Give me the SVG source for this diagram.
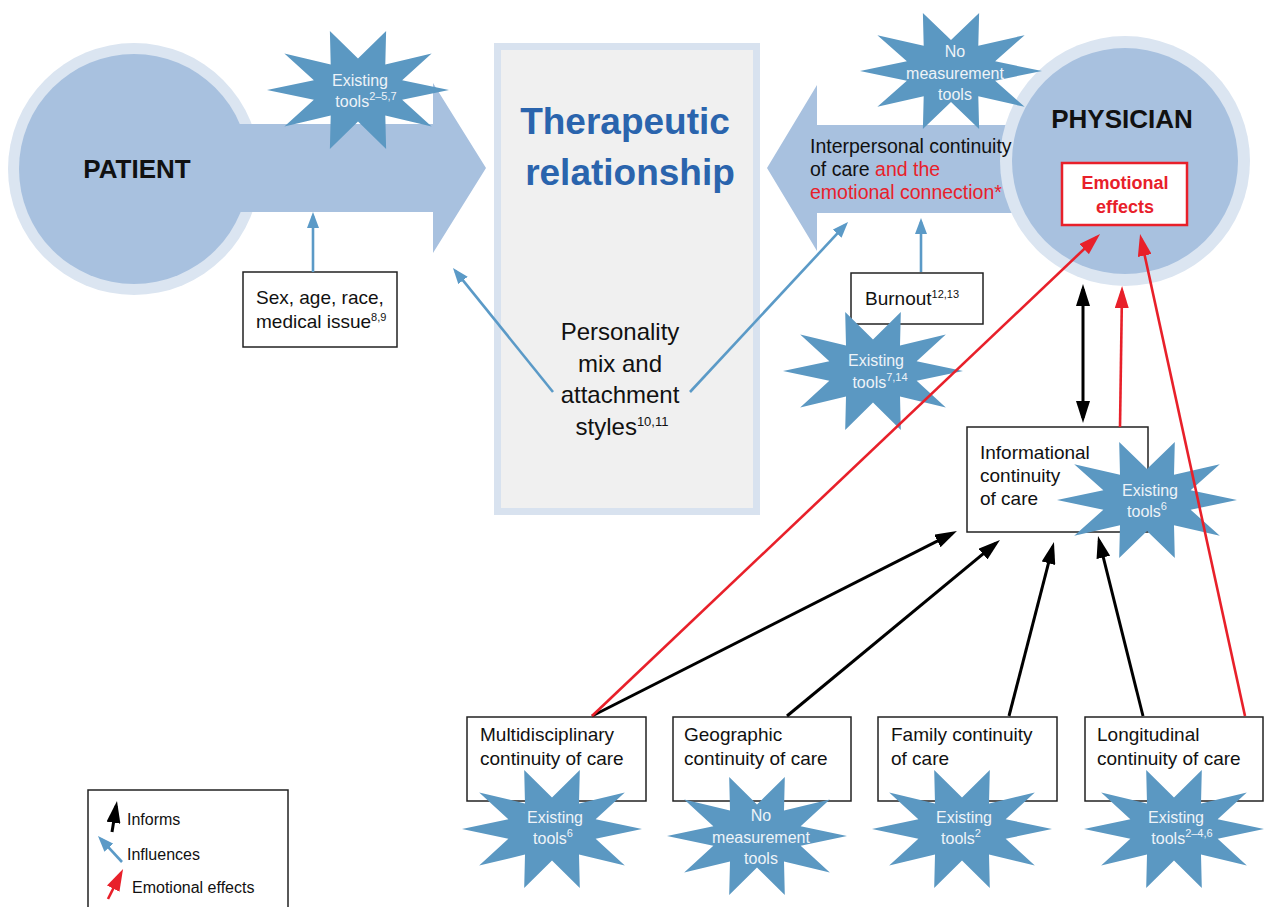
<svg xmlns="http://www.w3.org/2000/svg" width="1265" height="907" viewBox="0 0 1265 907">
<style>
text{font-family:"Liberation Sans",Arial,sans-serif;fill:#111}
.box{fill:#fff;stroke:#222;stroke-width:1.5}
.t18{font-size:19px}
.st{font-size:16px;fill:#eef3f8;text-anchor:middle}
.sup{font-size:11px}
.blk{stroke:#000;stroke-width:3;fill:none}
.red{stroke:#e8202a;stroke-width:2.6;fill:none}
.blu{stroke:#5b9ac7;stroke-width:2.6;fill:none}
.star{fill:#5b98c2}
.ring{fill:#dbe5f1}
.core{fill:#a8c1df}
</style>
<defs>
<path id="star" d="M100,0 L48.5,-15.8 L80.9,-58.8 L30,-41.3 L30.9,-95.1 L0,-51 L-30.9,-95.1 L-30,-41.3 L-80.9,-58.8 L-48.5,-15.8 L-100,0 L-48.5,15.8 L-80.9,58.8 L-30,41.3 L-30.9,95.1 L0,51 L30.9,95.1 L30,41.3 L80.9,58.8 L48.5,15.8 Z"/>
<marker id="hBlack" markerUnits="userSpaceOnUse" markerWidth="22" markerHeight="14" viewBox="0 0 22 14" refX="17" refY="7" orient="auto-start-reverse"><path d="M0,0 L22,7 L0,14 Z" fill="#000"/></marker>
<marker id="hRed" markerUnits="userSpaceOnUse" markerWidth="22" markerHeight="14" viewBox="0 0 22 14" refX="17" refY="7" orient="auto"><path d="M0,0 L22,7 L0,14 Z" fill="#e8202a"/></marker>
<marker id="hBlue" markerUnits="userSpaceOnUse" markerWidth="16" markerHeight="12" viewBox="0 0 16 12" refX="12" refY="6" orient="auto"><path d="M0,0 L16,6 L0,12 Z" fill="#5b9ac7"/></marker>
</defs>

<g id="patient">
<circle class="ring" cx="134" cy="169" r="126"/>
<circle class="core" cx="134" cy="169" r="115"/>
<polygon class="core" points="200,124 433,124 433,83 486,168 433,253 433,212 200,212"/>
<text x="137" y="178" font-size="26" font-weight="bold" text-anchor="middle" fill="#000">PATIENT</text>
</g>

<g id="physician">
<polygon class="core" points="1030,125 817,125 817,85 767,168 817,251 817,213 1030,213"/>
<circle class="ring" cx="1125" cy="161" r="125"/>
<circle class="core" cx="1125" cy="161" r="113"/>
<text x="1122" y="128" font-size="26" font-weight="bold" text-anchor="middle" fill="#000">PHYSICIAN</text>
<text x="810" y="153" font-size="19.5">Interpersonal continuity</text>
<text x="810" y="176" font-size="19.5">of care <tspan style="fill:#e8202a">and the</tspan></text>
<text x="810" y="199" font-size="19.5" style="fill:#e8202a">emotional connection*</text>
</g>

<g id="emotional-effects">
<rect x="1062" y="163" width="125" height="62" fill="#fff" stroke="#e8202a" stroke-width="2.5"/>
<text x="1125" y="189" font-size="18" font-weight="bold" text-anchor="middle" style="fill:#e8202a">Emotional</text>
<text x="1125" y="213" font-size="18" font-weight="bold" text-anchor="middle" style="fill:#e8202a">effects</text>
</g>

<g id="therapeutic-relationship">
<rect x="497.5" y="46.5" width="259" height="465" fill="#f0f0f0" stroke="#d8e2ef" stroke-width="7"/>
<text x="625" y="134" font-size="37" font-weight="bold" text-anchor="middle" style="fill:#2a64ad">Therapeutic</text>
<text x="630" y="185" font-size="37" font-weight="bold" text-anchor="middle" style="fill:#2a64ad">relationship</text>
<text x="620" y="340" font-size="24" text-anchor="middle">Personality</text>
<text x="620" y="372" font-size="24" text-anchor="middle">mix and</text>
<text x="620" y="403" font-size="24" text-anchor="middle">attachment</text>
<text x="622" y="435" font-size="24" text-anchor="middle">styles<tspan font-size="13" dy="-9">10,11</tspan></text>
</g>

<g id="star-patient">
<use href="#star" class="star" transform="translate(358,90) scale(0.91,0.62)"/>
<text class="st" x="360" y="86">Existing</text>
<text class="st" x="366" y="107">tools<tspan class="sup" dy="-7">2–5,7</tspan></text>
</g>

<g id="star-interpersonal">
<use href="#star" class="star" transform="translate(951,71) scale(0.91,0.61)"/>
<text class="st" x="955" y="57">No</text>
<text class="st" x="955" y="79">measurement</text>
<text class="st" x="955" y="100">tools</text>
</g>

<g id="sex-age">
<rect class="box" x="243" y="272" width="154" height="75"/>
<text class="t18" x="256" y="304">Sex, age, race,</text>
<text class="t18" x="256" y="328">medical issue<tspan class="sup" dy="-7">8,9</tspan></text>
</g>

<g id="burnout">
<rect class="box" x="851" y="273" width="132" height="51"/>
<text class="t18" x="865" y="305">Burnout<tspan class="sup" dy="-7">12,13</tspan></text>
</g>

<g id="star-burnout">
<use href="#star" class="star" transform="translate(873,371) scale(0.90,0.62)"/>
<text class="st" x="876" y="366">Existing</text>
<text class="st" x="880" y="388">tools<tspan class="sup" dy="-7">7,14</tspan></text>
</g>

<g id="informational">
<rect class="box" x="967" y="427" width="181" height="105"/>
<text class="t18" x="980" y="459">Informational</text>
<text class="t18" x="980" y="482">continuity</text>
<text class="t18" x="980" y="505">of care</text>
</g>

<g id="star-informational">
<use href="#star" class="star" transform="translate(1147,500) scale(0.90,0.61)"/>
<text class="st" x="1150" y="496">Existing</text>
<text class="st" x="1147" y="517">tools<tspan class="sup" dy="-7">6</tspan></text>
</g>

<g id="multidisciplinary">
<rect class="box" x="467" y="717" width="179" height="84"/>
<text class="t18" x="480" y="741">Multidisciplinary</text>
<text class="t18" x="480" y="765">continuity of care</text>
</g>
<g id="geographic">
<rect class="box" x="673" y="717" width="178" height="84"/>
<text class="t18" x="684" y="741">Geographic</text>
<text class="t18" x="684" y="765">continuity of care</text>
</g>
<g id="family">
<rect class="box" x="878" y="717" width="179" height="84"/>
<text class="t18" x="891" y="741">Family continuity</text>
<text class="t18" x="891" y="765">of care</text>
</g>
<g id="longitudinal">
<rect class="box" x="1085" y="717" width="178" height="84"/>
<text class="t18" x="1097" y="741">Longitudinal</text>
<text class="t18" x="1097" y="765">continuity of care</text>
</g>

<g id="star-multidisciplinary">
<use href="#star" class="star" transform="translate(552,829) scale(0.90,0.62)"/>
<text class="st" x="555" y="823">Existing</text>
<text class="st" x="553" y="844">tools<tspan class="sup" dy="-7">6</tspan></text>
</g>
<g id="star-geographic">
<use href="#star" class="star" transform="translate(757,836) scale(0.90,0.62)"/>
<text class="st" x="761" y="821">No</text>
<text class="st" x="761" y="843">measurement</text>
<text class="st" x="761" y="864">tools</text>
</g>
<g id="star-family">
<use href="#star" class="star" transform="translate(962,829) scale(0.90,0.62)"/>
<text class="st" x="964" y="823">Existing</text>
<text class="st" x="961" y="844">tools<tspan class="sup" dy="-7">2</tspan></text>
</g>
<g id="star-longitudinal">
<use href="#star" class="star" transform="translate(1174,829) scale(0.90,0.62)"/>
<text class="st" x="1176" y="823">Existing</text>
<text class="st" x="1182" y="844">tools<tspan class="sup" dy="-7">2–4,6</tspan></text>
</g>

<g id="connectors">
<line class="blk" x1="592" y1="716" x2="952.5" y2="533.3" marker-end="url(#hBlack)"/>
<line class="blk" x1="787" y1="716" x2="996.1" y2="543.2" marker-end="url(#hBlack)"/>
<line class="blk" x1="1009" y1="716" x2="1052.7" y2="546.8" marker-end="url(#hBlack)"/>
<line class="blk" x1="1143" y1="716" x2="1099.2" y2="540.9" marker-end="url(#hBlack)"/>
<line class="blk" x1="1083" y1="418" x2="1083" y2="289" marker-start="url(#hBlack)" marker-end="url(#hBlack)"/>
<line class="red" x1="592" y1="716" x2="1096.4" y2="237.4" marker-end="url(#hRed)"/>
<line class="red" x1="1120" y1="427" x2="1122" y2="291" marker-end="url(#hRed)"/>
<line class="red" x1="1245" y1="716" x2="1141.1" y2="238.9" marker-end="url(#hRed)"/>
<line class="blu" x1="313" y1="272" x2="313" y2="216" marker-end="url(#hBlue)"/>
<line class="blu" x1="553" y1="392" x2="455.5" y2="271.1" marker-end="url(#hBlue)"/>
<line class="blu" x1="690" y1="392" x2="845.3" y2="224.9" marker-end="url(#hBlue)"/>
<line class="blu" x1="921" y1="272" x2="921" y2="222" marker-end="url(#hBlue)"/>
</g>

<g id="legend">
<rect class="box" x="88" y="790" width="200" height="130"/>
<line class="blk" x1="112" y1="832" x2="116.2" y2="805.9" stroke-width="2.5" marker-end="url(#hBlack)"/>
<line class="blu" x1="122" y1="862" x2="100.7" y2="838.9" marker-end="url(#hBlue)"/>
<line class="red" x1="108" y1="899" x2="120.8" y2="873.5" marker-end="url(#hRed)"/>
<text x="127" y="825" font-size="16">Informs</text>
<text x="127" y="860" font-size="16">Influences</text>
<text x="132" y="893" font-size="16">Emotional effects</text>
</g>
</svg>
